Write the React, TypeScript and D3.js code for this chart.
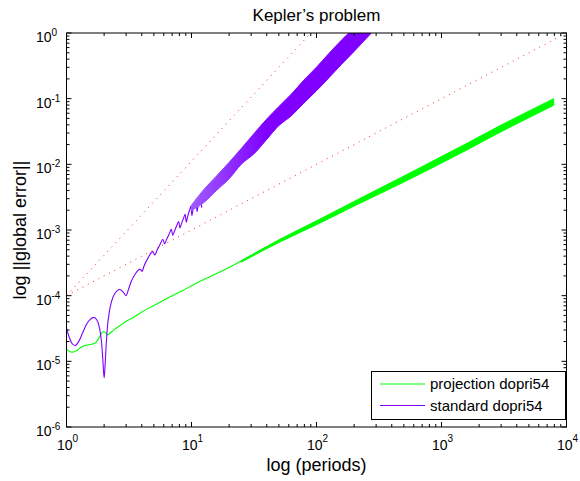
import React from 'react';
import * as d3 from 'd3';

const W = 580;
const H = 481;
const PL = 66.5, PR = 566.5, PT = 33, PB = 427;

const titleText = 'Kepler\u2019s problem';
const xLabelText = 'log (periods)';
const yLabelText = 'log ||global error||';
const legendLabels = ['projection dopri54', 'standard dopri54'];

const xTickExps = [0, 1, 2, 3, 4];
const yTickExps = [-6, -5, -4, -3, -2, -1, 0];

// projection dopri54 — thin part (t, log10 error)
const greenT = [1.0, 1.05, 1.12, 1.2, 1.3, 1.4, 1.55, 1.7, 1.8, 1.9, 1.97, 2.05, 2.12, 2.2, 2.4, 2.7, 3.0, 3.5, 4.0, 5.0, 6.0, 7.0, 8.5, 10, 13, 16, 20, 30, 50, 70, 100, 200, 470, 870, 1600, 2950, 5500, 7900];
const greenLog = [-4.81, -4.845, -4.86, -4.84, -4.79, -4.76, -4.745, -4.72, -4.66, -4.58, -4.545, -4.56, -4.6, -4.58, -4.52, -4.45, -4.39, -4.32, -4.25, -4.15, -4.07, -4.0, -3.92, -3.85, -3.74, -3.66, -3.57, -3.39, -3.17, -3.03, -2.89, -2.6, -2.25, -1.99, -1.73, -1.46, -1.2, -1.05];
// projection dopri54 — oscillation band envelopes
const greenBandT = [25, 50, 100, 200, 470, 870, 1600, 2950, 5500, 7900];
const greenBandHi = [-3.47, -3.15, -2.86, -2.565, -2.205, -1.94, -1.68, -1.41, -1.15, -1.0];
const greenBandLo = [-3.49, -3.19, -2.92, -2.635, -2.295, -2.04, -1.78, -1.51, -1.25, -1.1];

// standard dopri54 — early part (t, log10 error)
const purpleT = [1.0, 1.05, 1.1, 1.17, 1.25, 1.35, 1.45, 1.55, 1.65, 1.75, 1.83, 1.9, 1.95, 2.0, 2.03, 2.07, 2.12, 2.2, 2.3, 2.45, 2.67, 2.85, 3.0, 3.1, 3.3, 3.55, 3.84, 3.95, 4.03, 4.15, 4.45, 4.9, 5.08, 5.3, 5.6, 5.9, 6.08, 6.3, 6.6, 6.9, 7.08, 7.3, 7.6, 7.9, 8.08, 8.3, 8.6, 8.9, 9.08, 9.3, 9.6, 9.9, 10.07, 10.3, 10.9, 11.07, 11.4, 11.9, 12.06];
const purpleLog = [-4.5, -4.63, -4.72, -4.76, -4.7, -4.56, -4.43, -4.36, -4.33, -4.37, -4.48, -4.68, -4.95, -5.25, -5.1, -4.8, -4.5, -4.25, -4.08, -3.96, -3.905, -3.95, -4.0, -3.93, -3.78, -3.67, -3.6, -3.61, -3.63, -3.56, -3.44, -3.33, -3.38, -3.31, -3.22, -3.14, -3.21, -3.15, -3.07, -2.99, -3.08, -3.02, -2.94, -2.87, -2.97, -2.91, -2.83, -2.76, -2.88, -2.8, -2.71, -2.64, -2.78, -2.68, -2.55, -2.72, -2.57, -2.47, -2.66];
// standard dopri54 — oscillation band envelopes
const purpleBandT = [10, 12.6, 15.8, 20, 25, 32, 40, 50, 63, 79, 100, 126, 158, 200, 251, 316];
const purpleBandHi = [-2.62, -2.38, -2.18, -1.97, -1.76, -1.52, -1.31, -1.12, -0.93, -0.72, -0.52, -0.31, -0.11, 0.08, 0.28, 0.48];
const purpleBandLo = [-2.7, -2.58, -2.4, -2.22, -2.0, -1.83, -1.62, -1.41, -1.26, -1.07, -0.88, -0.68, -0.48, -0.28, -0.08, 0.12];

// red dotted reference slopes
const ref1T = [1, 10000];
const ref1V = [1e-4, 1];
const ref2T = [1, 90];
const ref2V = [1e-4, 1];

const GREEN = '#00ff00';
const PURPLE = '#7f00ff';
const RED = '#ff0000';
const FONT = 'Liberation Sans, Arial, Helvetica, sans-serif';

export default function App() {
  const x = d3.scaleLog().domain([1, 1e4]).range([PL, PR]);
  const y = d3.scaleLog().domain([1e-6, 1]).range([PB, PT]);

  const line = d3
    .line<[number, number]>()
    .x((d) => x(d[0]))
    .y((d) => y(Math.pow(10, d[1])))
    .curve(d3.curveMonotoneX);
  const lineLin = d3
    .line<[number, number]>()
    .x((d) => x(d[0]))
    .y((d) => y(d[1]));
  const area = d3
    .area<[number, number, number]>()
    .x((d) => x(d[0]))
    .y0((d) => y(Math.pow(10, d[2])))
    .y1((d) => y(Math.pow(10, d[1])))
    .curve(d3.curveMonotoneX);

  const greenPts = greenT.map((t, i) => [t, greenLog[i]] as [number, number]);
  const purplePts = purpleT.map((t, i) => [t, purpleLog[i]] as [number, number]);
  const greenBand = greenBandT.map((t, i) => [t, greenBandHi[i], greenBandLo[i]] as [number, number, number]);
  const purpleBand = purpleBandT.map((t, i) => [t, purpleBandHi[i], purpleBandLo[i]] as [number, number, number]);
  const ref1 = ref1T.map((t, i) => [t, ref1V[i]] as [number, number]);
  const ref2 = ref2T.map((t, i) => [t, ref2V[i]] as [number, number]);

  const ticks: JSX.Element[] = [];
  const majLen = 5, minLen = 3;
  xTickExps.forEach((e) => {
    const xv = x(Math.pow(10, e));
    ticks.push(<line key={`xb${e}`} x1={xv} x2={xv} y1={PB} y2={PB - majLen} />);
    ticks.push(<line key={`xt${e}`} x1={xv} x2={xv} y1={PT} y2={PT + majLen} />);
    if (e < 4) {
      for (let m = 2; m <= 9; m++) {
        const xm = x(m * Math.pow(10, e));
        ticks.push(<line key={`xbm${e}${m}`} x1={xm} x2={xm} y1={PB} y2={PB - minLen} />);
        ticks.push(<line key={`xtm${e}${m}`} x1={xm} x2={xm} y1={PT} y2={PT + minLen} />);
      }
    }
  });
  yTickExps.forEach((e) => {
    const yv = y(Math.pow(10, e));
    ticks.push(<line key={`yl${e}`} x1={PL} x2={PL + majLen} y1={yv} y2={yv} />);
    ticks.push(<line key={`yr${e}`} x1={PR} x2={PR - majLen} y1={yv} y2={yv} />);
    if (e < 0) {
      for (let m = 2; m <= 9; m++) {
        const ym = y(m * Math.pow(10, e));
        ticks.push(<line key={`ylm${e}${m}`} x1={PL} x2={PL + minLen} y1={ym} y2={ym} />);
        ticks.push(<line key={`yrm${e}${m}`} x1={PR} x2={PR - minLen} y1={ym} y2={ym} />);
      }
    }
  });

  const bandStart = x(purpleBandT[0]);
  const bandSolid = x(40);

  return (
    <svg
      width={W}
      height={H}
      viewBox={`0 0 ${W} ${H}`}
      style={{ position: 'absolute', left: 0, top: 0, background: '#fff' }}
      fontFamily={FONT}
    >
      <defs>
        <clipPath id="plotClip">
          <rect x={PL} y={PT} width={PR - PL} height={PB - PT} />
        </clipPath>
        <linearGradient id="purpleGrad" gradientUnits="userSpaceOnUse" x1={bandStart} x2={bandSolid} y1={0} y2={0}>
          <stop offset="0" stopColor="#9f5cff" />
          <stop offset="1" stopColor={PURPLE} />
        </linearGradient>
      </defs>
      <rect x={0} y={0} width={W} height={H} fill="#fff" />

      <g clipPath="url(#plotClip)">
        <path d={area(greenBand) || ''} fill={GREEN} stroke={GREEN} strokeWidth={1} />
        <path d={line(greenPts) || ''} fill="none" stroke={GREEN} strokeWidth={1.1} />
        <path d={line(purplePts) || ''} fill="none" stroke={PURPLE} strokeWidth={1.1} />
        <path d={area(purpleBand) || ''} fill="url(#purpleGrad)" stroke="url(#purpleGrad)" strokeWidth={1} />
        <path d={lineLin(ref1) || ''} fill="none" stroke={RED} strokeWidth={1} strokeDasharray="1 5" opacity={0.85} />
        <path d={lineLin(ref2) || ''} fill="none" stroke={RED} strokeWidth={1} strokeDasharray="1 5" opacity={0.85} />
      </g>

      <g stroke="#000" strokeWidth={1}>{ticks}</g>
      <rect x={PL} y={PT} width={PR - PL} height={PB - PT} fill="none" stroke="#000" strokeWidth={1} />

      {xTickExps.map((e) => (
        <text key={`xl${e}`} x={x(Math.pow(10, e)) + 1} y={449.5} textAnchor="middle" fontSize={14} fill="#000">
          <tspan>10</tspan>
          <tspan dy={-8} fontSize={10}>{String(e)}</tspan>
        </text>
      ))}
      {yTickExps.map((e) => {
        const yv = y(Math.pow(10, e));
        return (
          <g key={`yl${e}`}>
            <text x={51.5} y={yv + 9} textAnchor="end" fontSize={14} fill="#000">10</text>
            <text x={51.5} y={yv + 3} textAnchor="start" fontSize={10} fill="#000">{String(e)}</text>
          </g>
        );
      })}

      <text x={(PL + PR) / 2} y={21} textAnchor="middle" fontSize={17} fill="#000">{titleText}</text>
      <text x={(PL + PR) / 2} y={471} textAnchor="middle" fontSize={18} fill="#000">{xLabelText}</text>
      <text
        transform={`translate(26, ${(PT + PB) / 2}) rotate(-90)`}
        textAnchor="middle"
        fontSize={18}
        fill="#000"
      >
        {yLabelText}
      </text>

      <g>
        <rect x={371.5} y={371.5} width={194} height={48} fill="#fff" stroke="#000" strokeWidth={1} />
        <line x1={380} x2={425} y1={384} y2={384} stroke={GREEN} strokeWidth={1} />
        <line x1={380} x2={425} y1={405.5} y2={405.5} stroke={PURPLE} strokeWidth={1} />
        <text x={430} y={389} fontSize={15} fill="#000">{legendLabels[0]}</text>
        <text x={430} y={410.5} fontSize={15} fill="#000">{legendLabels[1]}</text>
      </g>
    </svg>
  );
}
